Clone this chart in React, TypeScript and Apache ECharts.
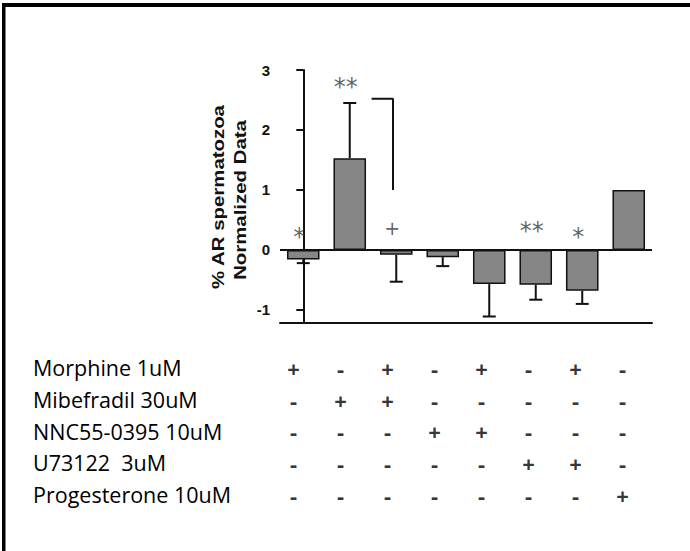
import React, { useEffect, useRef } from "react";
import * as echarts from "echarts";

// ---- data ----
const barCategories = [
  "Morphine",
  "Mibefradil",
  "Morphine + Mibefradil",
  "NNC55-0395",
  "Morphine + NNC55-0395",
  "U73122",
  "Morphine + U73122",
  "Progesterone",
];
const barValues = [-0.16, 1.53, -0.08, -0.12, -0.57, -0.58, -0.68, 1.0];
const errorEnds: (number | null)[] = [-0.22, 2.45, -0.53, -0.27, -1.11, -0.83, -0.9, null];
const yTicks = [-1, 0, 1, 2, 3];
const yMin = -1.21;
const yMax = 3;
const markTexts = ["*", "**", "+", "", "", "**", "*", ""];
const markLevels = [0.22, 2.71, 0.36, 0, 0, 0.31, 0.22, 0];
const bracketPoints = [
  [1.47, 2.52],
  [1.93, 2.52],
  [1.93, 1.0],
];
const yTitleLines = ["% AR spermatozoa", "Normalized Data"];
const treatments = [
  "Morphine 1uM",
  "Mibefradil 30uM",
  "NNC55-0395 10uM",
  "U73122  3uM",
  "Progesterone 10uM",
];
const treatmentMatrix = [
  ["+", "-", "+", "-", "+", "-", "+", "-"],
  ["-", "+", "+", "-", "-", "-", "-", "-"],
  ["-", "-", "-", "+", "+", "-", "-", "-"],
  ["-", "-", "-", "-", "-", "+", "+", "-"],
  ["-", "-", "-", "-", "-", "-", "-", "+"],
];

export default function App() {
  const ref = useRef<HTMLDivElement>(null);

  useEffect(() => {
    if (!ref.current) return;
    const chart = echarts.init(ref.current, null, { renderer: "svg" });
    const black = "#111";
    const axisLine = { color: black, width: 2 };

    const errorData = barValues
      .map((v, i) => (errorEnds[i] == null ? null : [i, v, errorEnds[i]]))
      .filter((d) => d !== null);

    const markData = markTexts
      .map((t, i) => ({ t, i }))
      .filter((d) => d.t !== "")
      .map((d) => ({
        value: [d.i, markLevels[d.i], d.t],
        label: { fontSize: d.t === "+" ? 19 : 24 },
      }));

    const tableData: any[] = [];
    treatmentMatrix.forEach((row, r) =>
      row.forEach((s, c) => tableData.push([c, r, s]))
    );

    const option: any = {
      animation: false,
      grid: [
        { left: 280, right: 38, top: 70, bottom: 228.5 },
        { left: 270, right: 44, top: 352, height: 158.5 },
      ],
      xAxis: [
        {
          type: "category",
          gridIndex: 0,
          data: barCategories,
          axisLine: { show: true, onZero: false, lineStyle: axisLine },
          axisTick: { show: false },
          axisLabel: { show: false },
        },
        {
          type: "value",
          gridIndex: 0,
          min: -0.5,
          max: 7.5,
          show: false,
          splitLine: { show: false },
        },
        {
          type: "category",
          gridIndex: 1,
          data: barCategories,
          show: false,
        },
      ],
      yAxis: [
        {
          type: "value",
          gridIndex: 0,
          min: yMin,
          max: yMax,
          axisLine: { show: true, lineStyle: axisLine },
          axisTick: {
            show: true,
            length: 7,
            customValues: yTicks,
            lineStyle: axisLine,
          },
          axisLabel: {
            customValues: yTicks,
            fontFamily: "Liberation Sans",
            fontWeight: "bold",
            fontSize: 15,
            color: black,
            margin: 10,
          },
          splitLine: { show: false },
        },
        {
          type: "category",
          gridIndex: 1,
          data: treatments,
          inverse: true,
          axisLine: { show: false },
          axisTick: { show: false },
          axisLabel: {
            align: "left",
            margin: 237,
            fontFamily: "Open Sans",
            fontSize: 21.5,
            color: "#000",
          },
        },
      ],
      series: [
        {
          type: "custom",
          xAxisIndex: 0,
          yAxisIndex: 0,
          z: 1,
          encode: { x: 0, y: [1, 2] },
          data: errorData,
          renderItem: (params: any, api: any) => {
            const i = api.value(0);
            const p0 = api.coord([i, api.value(1)]);
            const p1 = api.coord([i, api.value(2)]);
            const style = { stroke: black, lineWidth: 2 };
            return {
              type: "group",
              children: [
                { type: "line", shape: { x1: p0[0], y1: p0[1], x2: p1[0], y2: p1[1] }, style },
                { type: "line", shape: { x1: p1[0] - 6.5, y1: p1[1], x2: p1[0] + 6.5, y2: p1[1] }, style },
              ],
            };
          },
        },
        {
          type: "bar",
          xAxisIndex: 0,
          yAxisIndex: 0,
          z: 2,
          barWidth: "70%",
          data: barValues,
          itemStyle: { color: "#868686", borderColor: black, borderWidth: 1.5 },
          markLine: {
            silent: true,
            symbol: "none",
            label: { show: false },
            lineStyle: { color: black, width: 2, type: "solid" },
            data: [{ yAxis: 0 }],
          },
        },
        {
          type: "scatter",
          xAxisIndex: 0,
          yAxisIndex: 0,
          z: 3,
          symbolSize: 0,
          itemStyle: { color: "transparent" },
          data: markData,
          label: {
            show: true,
            position: "inside",
            offset: [-4, 0],
            fontFamily: "DejaVu Sans",
            color: "#3a3a3a",
            formatter: (p: any) => p.value[2],
          },
        },
        {
          type: "line",
          xAxisIndex: 1,
          yAxisIndex: 0,
          z: 3,
          symbol: "none",
          data: bracketPoints,
          lineStyle: { color: black, width: 2 },
        },
        {
          type: "scatter",
          xAxisIndex: 2,
          yAxisIndex: 1,
          symbolSize: 0,
          itemStyle: { color: "transparent" },
          data: tableData,
          label: {
            show: true,
            position: "inside",
            fontFamily: "Open Sans",
            fontWeight: "bold",
            fontSize: 22,
            color: "#000",
            formatter: (p: any) => p.value[2],
          },
        },
      ],
      graphic: [
        { type: "rect", shape: { x: 2, y: 3, width: 688, height: 4 }, style: { fill: "#000" } },
        { type: "rect", shape: { x: 2, y: 3, width: 3.5, height: 548 }, style: { fill: "#000" } },
        ...yTitleLines.map((t, k) => ({
          type: "text",
          x: k === 0 ? 218 : 240,
          y: k === 0 ? 197 : 200,
          rotation: Math.PI / 2,
          scaleX: 1.2,
          style: {
            text: t,
            fontFamily: "Liberation Sans",
            fontWeight: "bold",
            fontSize: 17,
            fill: black,
            align: "center",
            verticalAlign: "middle",
            textAlign: "center",
            textVerticalAlign: "middle",
          },
        })),
      ],
    };
    chart.setOption(option);
    return () => chart.dispose();
  }, []);

  return (
    <div
      ref={ref}
      style={{ position: "absolute", left: 0, top: 0, width: 690, height: 551, background: "#fff" }}
    />
  );
}
